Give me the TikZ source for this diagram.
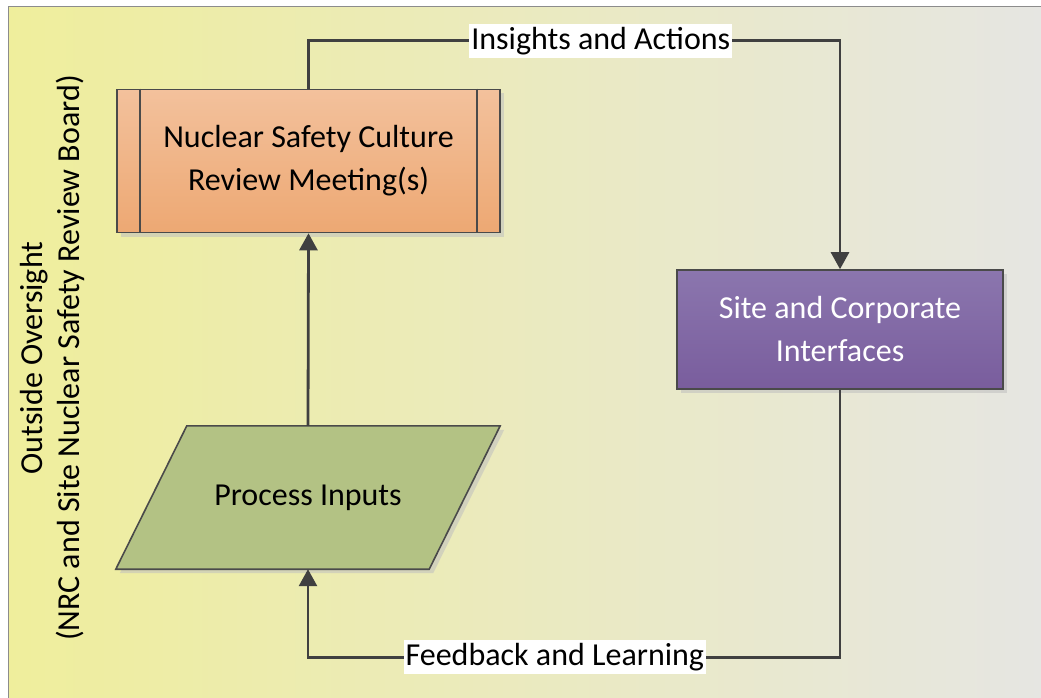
\documentclass[tikz,border=0pt]{standalone}
\usepackage{fontspec}
\setmainfont{Carlito}
\usetikzlibrary{calc,arrows.meta,shadows}
\definecolor{lineg}{HTML}{404040}
\definecolor{bordg}{HTML}{4A4A4A}
\definecolor{bgl}{HTML}{EFEE9C}
\definecolor{bgr}{HTML}{E6E6E2}
\definecolor{orT}{HTML}{F3C19C}
\definecolor{orB}{HTML}{EDA873}
\definecolor{puT}{HTML}{8B76AE}
\definecolor{puB}{HTML}{795D9D}
\definecolor{grn}{HTML}{B3C284}
\tikzset{
  boxshadow/.style={drop shadow={shadow xshift=4pt,shadow yshift=-4pt,fill=black!25,opacity=0.55}},
  orangebox/.style={draw=bordg,line width=1.6pt,top color=orT,bottom color=orB,
    minimum width=383pt,minimum height=143pt,align=center,boxshadow},
  purplebox/.style={draw=bordg,line width=1.6pt,top color=puT,bottom color=puB,
    minimum width=326pt,minimum height=119pt,align=center,text=white,boxshadow},
  holder/.style={minimum width=313pt,minimum height=143pt,inner sep=0pt},
  conn/.style={draw=lineg,line width=2.8pt,-{Triangle[length=17pt,width=18pt]}},
  lbl/.style={fill=white,inner xsep=2pt,inner ysep=3pt,text=black}
}
\begin{document}
\begin{tikzpicture}[x=1pt,y=-1pt,font=\fontsize{32}{43}\selectfont]
\useasboundingbox (0,0) rectangle (1041,698);
\fill[white] (0,0) rectangle (1041,698);
\shade[left color=bgl,right color=bgr] (8,7) rectangle (1041,698);
\draw[black!45,line width=1pt] (8,698) -- (8,7) -- (1041,7);

% outside oversight label
\node[rotate=90,align=center,inner sep=0pt,font=\fontsize{32}{37}\selectfont] (oo) at (52,358)
  {Outside Oversight\\(NRC and Site Nuclear Safety Review Board)};

% nodes
\node[orangebox] (nsc) at (308.5,161) {Nuclear Safety Culture\\Review Meeting(s)};
\draw[bordg,line width=1.6pt] ($(nsc.north west)+(24,0)$) -- ($(nsc.south west)+(24,0)$);
\draw[bordg,line width=1.6pt] ($(nsc.north east)+(-24,0)$) -- ($(nsc.south east)+(-24,0)$);

\node[purplebox] (sci) at (840,329.5) {Site and Corporate\\Interfaces};

\node[holder] (pin) at (308,497.5) {};
\path[draw=bordg,line width=1.6pt,fill=grn,boxshadow]
  ($(pin.north west)+(35.5,0)$) -- ($(pin.north east)+(35.5,0)$) --
  ($(pin.south east)+(-35.5,0)$) -- ($(pin.south west)+(-35.5,0)$) -- cycle;
\node at (pin.center) {Process Inputs};

% connectors
\draw[conn] (pin.north) -- (nsc.south);
\draw[conn] (nsc.north) -- ++(0,-48) -| node[lbl,pos=0.275] (ia) {Insights and Actions} (sci.north);
\draw[conn] (sci.south) |- node[lbl,pos=0.768] (fl) {Feedback and Learning} ($(pin.south)+(0,88)$) -- (pin.south);
\end{tikzpicture}
\end{document}
